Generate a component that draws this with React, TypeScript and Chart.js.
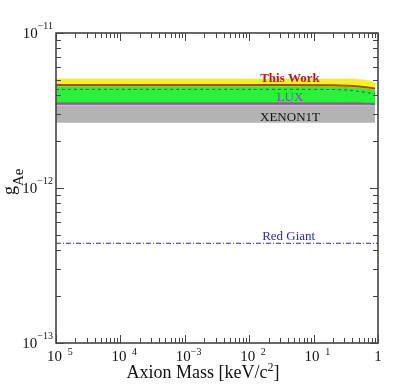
import React, { useEffect, useRef } from 'react';
import { Chart, registerables } from 'chart.js';

Chart.register(...registerables);

// ---- data ----
const massKeV = [1e-5, 0.01, 0.2, 0.35, 0.5, 0.7, 0.9];
const yellowTop = [5.09e-12, 5.09e-12, 5.09e-12, 5.08e-12, 5.05e-12, 4.97e-12, 4.78e-12];
const thisWork = [4.62e-12, 4.62e-12, 4.61e-12, 4.57e-12, 4.52e-12, 4.45e-12, 4.38e-12];
const greenTop = [4.53e-12, 4.53e-12, 4.52e-12, 4.49e-12, 4.44e-12, 4.37e-12, 4.29e-12];
const expected = [4.33e-12, 4.33e-12, 4.32e-12, 4.28e-12, 4.2e-12, 4.12e-12, 4.04e-12];
const greenBottom = [3.61e-12, 3.61e-12, 3.61e-12, 3.6e-12, 3.58e-12, 3.54e-12, 3.5e-12];
const yellowBottom = [3.575e-12, 3.575e-12, 3.575e-12, 3.57e-12, 3.55e-12, 3.5e-12, 3.45e-12];
const luxLimit = [3.5e-12, 3.5e-12, 3.5e-12, 3.5e-12, 3.5e-12, 3.49e-12, 3.48e-12];
const luxShade = [3.44e-12, 3.44e-12, 3.44e-12, 3.44e-12, 3.44e-12, 3.43e-12, 3.42e-12];
const xenonTop = [3.4e-12, 3.4e-12, 3.4e-12, 3.4e-12, 3.4e-12, 3.4e-12, 3.4e-12];
const xenonBottom = [2.64e-12, 2.64e-12, 2.64e-12, 2.64e-12, 2.64e-12, 2.64e-12, 2.64e-12];
const redGiantMass = [1e-5, 1];
const redGiant = [4.4e-13, 4.4e-13];

const xTickValues = [1e-5, 1e-4, 1e-3, 1e-2, 1e-1, 1];
const xTickBase = ['10', '10', '10', '10', '10', '1'];
const xTickExp = [' 5', ' 4', '\u22123', ' 2', ' 1', ''];
const yTickValues = [1e-13, 1e-12, 1e-11];
const yTickExp = ['\u221213', '\u221212', '\u221211'];

const pts = (xs: number[], ys: number[]) => xs.map((x, i) => ({ x, y: ys[i] }));

const SERIF = '"Liberation Serif", "Times New Roman", serif';

const framePlugin = {
  id: 'frameAxes',
  afterDraw(chart: any) {
    const { ctx, chartArea: a, scales } = chart;
    const xs = scales.x;
    const ys = scales.y;
    ctx.save();
    // text annotations
    ctx.textAlign = 'center';
    ctx.textBaseline = 'middle';
    ctx.font = `bold 13px ${SERIF}`;
    ctx.fillStyle = '#cc1010';
    ctx.fillText('This Work', xs.getPixelForValue(0.043), ys.getPixelForValue(5.05e-12));
    ctx.font = `13px ${SERIF}`;
    ctx.fillStyle = '#9a3fc0';
    ctx.fillText('LUX', xs.getPixelForValue(0.043), ys.getPixelForValue(3.86e-12));
    ctx.fillStyle = '#111';
    ctx.fillText('XENON1T', xs.getPixelForValue(0.043), ys.getPixelForValue(2.85e-12));
    ctx.fillStyle = '#2a2ab8';
    ctx.fillText('Red Giant', xs.getPixelForValue(0.041), ys.getPixelForValue(4.83e-13));

    // frame
    ctx.strokeStyle = '#444';
    ctx.lineWidth = 1.6;
    ctx.strokeRect(a.left, a.top, a.right - a.left, a.bottom - a.top);
    // ticks
    ctx.lineWidth = 1;
    ctx.beginPath();
    for (let d = -5; d <= 0; d++) {
      for (let k = 1; k <= 9; k++) {
        const v = k * Math.pow(10, d);
        if (v > 1.0001) break;
        const x = Math.round(xs.getPixelForValue(v)) + 0.5;
        const len = k === 1 ? 8 : 5;
        ctx.moveTo(x, a.bottom);
        ctx.lineTo(x, a.bottom - len);
        ctx.moveTo(x, a.top);
        ctx.lineTo(x, a.top + len);
      }
    }
    for (let d = -13; d <= -11; d++) {
      for (let k = 1; k <= 9; k++) {
        const v = k * Math.pow(10, d);
        if (v > 1.0001e-11) break;
        const y = Math.round(ys.getPixelForValue(v)) + 0.5;
        const len = k === 1 ? 8 : 5;
        ctx.moveTo(a.left, y);
        ctx.lineTo(a.left + len, y);
        ctx.moveTo(a.right, y);
        ctx.lineTo(a.right - len, y);
      }
    }
    ctx.stroke();

    // x tick labels
    ctx.fillStyle = '#111';
    ctx.textBaseline = 'alphabetic';
    ctx.textAlign = 'left';
    xTickValues.forEach((v, i) => {
      const x = xs.getPixelForValue(v);
      const base = xTickBase[i];
      const exp = xTickExp[i];
      ctx.font = `15px ${SERIF}`;
      if (!exp) {
        ctx.textAlign = 'center';
        ctx.fillText(base, x, a.bottom + 18);
        ctx.textAlign = 'left';
        return;
      }
      const bx = x - 9;
      ctx.fillText(base, bx, a.bottom + 18);
      let ex = bx + ctx.measureText(base).width;
      ctx.font = `10px ${SERIF}`;
      if (exp[0] === ' ') {
        ex += ctx.measureText('\u2212').width;
        ctx.fillText(exp.slice(1), ex, a.bottom + 12);
      } else {
        ctx.fillText(exp, ex, a.bottom + 12);
      }
    });

    // y tick labels
    yTickValues.forEach((v, i) => {
      const y = ys.getPixelForValue(v);
      ctx.font = `10px ${SERIF}`;
      const ew = ctx.measureText(yTickExp[i]).width;
      const right = a.left - 3;
      ctx.textAlign = 'right';
      ctx.fillText(yTickExp[i], right, y - 4);
      ctx.font = `15px ${SERIF}`;
      ctx.fillText('10', right - ew, y + 5);
    });

    // x title
    ctx.textAlign = 'left';
    ctx.font = `18px ${SERIF}`;
    const t1 = 'Axion Mass [keV/c';
    const w1 = ctx.measureText(t1).width;
    ctx.font = `12px ${SERIF}`;
    const w2 = ctx.measureText('2').width;
    ctx.font = `18px ${SERIF}`;
    const w3 = ctx.measureText(']').width;
    const tx = 203 - (w1 + w2 + w3) / 2;
    const tb = a.bottom + 35;
    ctx.fillText(t1, tx, tb);
    ctx.font = `12px ${SERIF}`;
    ctx.fillText('2', tx + w1, tb - 7);
    ctx.font = `18px ${SERIF}`;
    ctx.fillText(']', tx + w1 + w2, tb);

    // y title
    ctx.save();
    ctx.translate(15, 195);
    ctx.rotate(-Math.PI / 2);
    ctx.textAlign = 'left';
    ctx.font = `18px ${SERIF}`;
    ctx.fillText('g', 0, 0);
    const gw = ctx.measureText('g').width;
    ctx.font = `15px ${SERIF}`;
    ctx.fillText('Ae', gw, 8);
    ctx.restore();

    ctx.restore();
  },
};

const line = (data: any, color: string, width: number, order: number, extra: any = {}) => ({
  data,
  borderColor: color,
  borderWidth: width,
  pointRadius: 0,
  fill: false,
  tension: 0.3,
  order,
  ...extra,
});

export default function App() {
  const ref = useRef<HTMLCanvasElement | null>(null);
  useEffect(() => {
    if (!ref.current) return;
    const chart = new Chart(ref.current, {
      type: 'line',
      data: {
        datasets: [
          line(pts(massKeV, xenonTop), 'rgba(0,0,0,0)', 0, 20, { fill: '+1', backgroundColor: '#b3b3b3', tension: 0 }),
          line(pts(massKeV, xenonBottom), 'rgba(0,0,0,0)', 0, 20, { tension: 0 }),
          line(pts(massKeV, yellowTop), 'rgba(0,0,0,0)', 0, 18, { fill: '+1', backgroundColor: '#f4f41c' }),
          line(pts(massKeV, yellowBottom), 'rgba(0,0,0,0)', 0, 18),
          line(pts(massKeV, greenTop), 'rgba(0,0,0,0)', 0, 16, { fill: '+1', backgroundColor: '#2af23c' }),
          line(pts(massKeV, greenBottom), 'rgba(0,0,0,0)', 0, 16),
          line(pts(massKeV, yellowBottom), '#6f9e4f', 1.5, 14),
          line(pts(massKeV, luxShade), '#cdb0dc', 2, 13),
          line(pts(massKeV, luxLimit), '#9b4fb5', 2, 12),
          line(pts(massKeV, expected), '#1b6e35', 1, 10, { borderDash: [3, 3] }),
          line(pts(massKeV, thisWork), '#b5441c', 2, 8),
          line(pts(redGiantMass, redGiant), '#2b2b8f', 1, 6, { borderDash: [5, 2, 1, 2], tension: 0 }),
        ],
      },
      options: {
        responsive: false,
        animation: false,
        devicePixelRatio: 1,
        layout: { padding: { left: 56, top: 33, right: 26, bottom: 45 } },
        plugins: { legend: { display: false }, tooltip: { enabled: false } },
        scales: {
          x: { type: 'logarithmic', min: 1e-5, max: 1, display: false },
          y: { type: 'logarithmic', min: 1e-13, max: 1e-11, display: false },
        },
      },
      plugins: [framePlugin],
    });
    return () => chart.destroy();
  }, []);
  return (
    <div style={{ position: 'fixed', left: 0, top: 0, width: 404, height: 388, background: '#fff' }}>
      <canvas ref={ref} width={404} height={388} style={{ display: 'block', width: 404, height: 388 }} />
    </div>
  );
}
